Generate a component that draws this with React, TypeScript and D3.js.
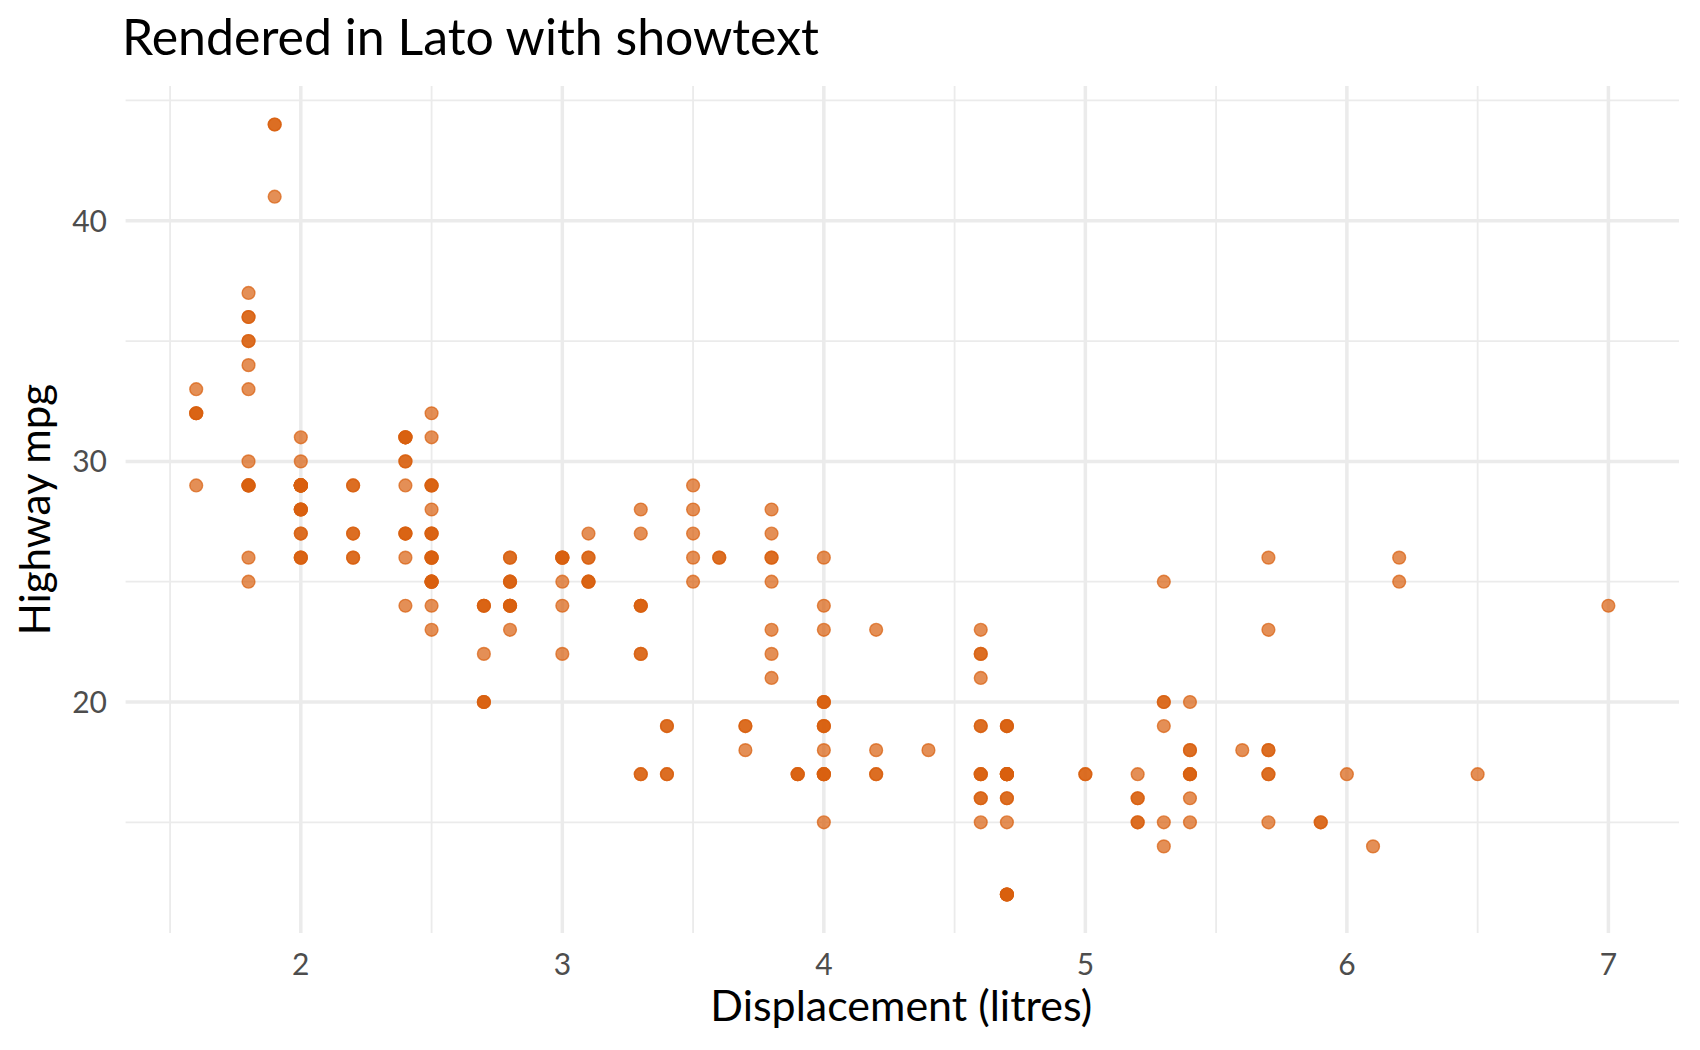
import React from "react";
import * as d3 from "d3";

// unique (displ, hwy) pairs and how many cars share each one
const displ = [
  1.6, 1.6, 1.6,
  1.8, 1.8, 1.8, 1.8, 1.8, 1.8, 1.8, 1.8, 1.8,
  1.9, 1.9,
  2.0, 2.0, 2.0, 2.0, 2.0, 2.0,
  2.2, 2.2, 2.2,
  2.4, 2.4, 2.4, 2.4, 2.4, 2.4,
  2.5, 2.5, 2.5, 2.5, 2.5, 2.5, 2.5, 2.5, 2.5,
  2.7, 2.7, 2.7,
  2.8, 2.8, 2.8, 2.8,
  3.0, 3.0, 3.0, 3.0,
  3.1, 3.1, 3.1,
  3.3, 3.3, 3.3, 3.3, 3.3,
  3.4, 3.4,
  3.5, 3.5, 3.5, 3.5, 3.5,
  3.6,
  3.7, 3.7,
  3.8, 3.8, 3.8, 3.8, 3.8, 3.8, 3.8,
  3.9,
  4.0, 4.0, 4.0, 4.0, 4.0, 4.0, 4.0, 4.0,
  4.2, 4.2, 4.2,
  4.4,
  4.6, 4.6, 4.6, 4.6, 4.6, 4.6, 4.6,
  4.7, 4.7, 4.7, 4.7, 4.7,
  5.0,
  5.2, 5.2, 5.2,
  5.3, 5.3, 5.3, 5.3, 5.3,
  5.4, 5.4, 5.4, 5.4, 5.4,
  5.6,
  5.7, 5.7, 5.7, 5.7, 5.7,
  5.9,
  6.0,
  6.1,
  6.2, 6.2,
  6.5,
  7.0,
];
const hwy = [
  33, 32, 29,
  37, 36, 35, 34, 33, 30, 29, 26, 25,
  44, 41,
  31, 30, 29, 28, 27, 26,
  29, 27, 26,
  31, 30, 29, 27, 26, 24,
  32, 31, 29, 28, 27, 26, 25, 24, 23,
  24, 22, 20,
  26, 25, 24, 23,
  26, 25, 24, 22,
  27, 26, 25,
  28, 27, 24, 22, 17,
  19, 17,
  29, 28, 27, 26, 25,
  26,
  19, 18,
  28, 27, 26, 25, 23, 22, 21,
  17,
  26, 24, 23, 20, 19, 18, 17, 15,
  23, 18, 17,
  18,
  23, 22, 21, 19, 17, 16, 15,
  19, 17, 16, 15, 12,
  17,
  17, 16, 15,
  25, 20, 19, 15, 14,
  20, 18, 17, 16, 15,
  18,
  26, 23, 18, 17, 15,
  15,
  17,
  14,
  26, 25,
  17,
  24,
];
const count = [
  1, 3, 1,
  1, 2, 2, 1, 1, 1, 4, 1, 1,
  2, 1,
  1, 1, 10, 4, 2, 3,
  2, 2, 2,
  4, 2, 1, 3, 1, 1,
  1, 1, 3, 1, 3, 4, 5, 1, 1,
  3, 1, 3,
  2, 3, 4, 1,
  4, 1, 1, 1,
  1, 2, 3,
  1, 1, 3, 2, 2,
  2, 2,
  1, 1, 1, 1, 1,
  2,
  2, 1,
  1, 1, 2, 1, 1, 1, 1,
  3,
  1, 1, 1, 3, 3, 1, 4, 1,
  1, 1, 2,
  1,
  1, 2, 1, 2, 3, 2, 1,
  3, 6, 2, 1, 5,
  2,
  1, 2, 2,
  1, 2, 1, 1, 1,
  1, 2, 3, 1, 1,
  1,
  1, 1, 2, 2, 1,
  2,
  1,
  1,
  1, 1,
  1,
  1,
];

const xMajor = [2, 3, 4, 5, 6, 7];
const xMinor = [1.5, 2.5, 3.5, 4.5, 5.5, 6.5];
const yMajor = [20, 30, 40];
const yMinor = [15, 25, 35, 45];

const title = "Rendered in Lato with showtext";
const xTitle = "Displacement (litres)";
const yTitle = "Highway mpg";

const W = 1700;
const H = 1050;
const panel = { left: 125.6, right: 1679, top: 86, bottom: 933 };
const FONT = "Lato, 'Noto Sans', sans-serif";
const POINT = "#D95F0E";
const GRID = "#EBEBEB";

// ggplot style: 5% expansion on each side of the data range
const expand = (ext: [number, number]): [number, number] => {
  const pad = (ext[1] - ext[0]) * 0.05;
  return [ext[0] - pad, ext[1] + pad];
};

export default function App() {
  const x = d3
    .scaleLinear()
    .domain(expand(d3.extent(displ) as [number, number]))
    .range([panel.left, panel.right]);
  const y = d3
    .scaleLinear()
    .domain(expand(d3.extent(hwy) as [number, number]))
    .range([panel.bottom, panel.top]);

  const points: { cx: number; cy: number; key: string }[] = [];
  displ.forEach((d, i) => {
    for (let k = 0; k < count[i]; k++) {
      points.push({ cx: x(d), cy: y(hwy[i]), key: `${i}-${k}` });
    }
  });

  const midX = (panel.left + panel.right) / 2;
  const midY = (panel.top + panel.bottom) / 2;

  return (
    <svg
      width={W}
      height={H}
      style={{ position: "absolute", left: 0, top: 0, background: "#fff" }}
      fontFamily={FONT}
    >
      <rect width={W} height={H} fill="#fff" />

      {/* minor grid */}
      {yMinor.map((v) => (
        <line key={`ym${v}`} x1={panel.left} x2={panel.right} y1={y(v)} y2={y(v)} stroke={GRID} strokeWidth={1.8} />
      ))}
      {xMinor.map((v) => (
        <line key={`xm${v}`} x1={x(v)} x2={x(v)} y1={panel.top} y2={panel.bottom} stroke={GRID} strokeWidth={1.8} />
      ))}
      {/* major grid */}
      {yMajor.map((v) => (
        <line key={`yM${v}`} x1={panel.left} x2={panel.right} y1={y(v)} y2={y(v)} stroke={GRID} strokeWidth={3.5} />
      ))}
      {xMajor.map((v) => (
        <line key={`xM${v}`} x1={x(v)} x2={x(v)} y1={panel.top} y2={panel.bottom} stroke={GRID} strokeWidth={3.5} />
      ))}

      {points.map((p) => (
        <circle
          key={p.key}
          cx={p.cx}
          cy={p.cy}
          r={6.4}
          fill={POINT}
          fillOpacity={0.7}
          stroke={POINT}
          strokeOpacity={0.7}
          strokeWidth={1.4}
        />
      ))}

      {/* tick labels */}
      {yMajor.map((v) => (
        <text key={`yt${v}`} x={107} y={y(v)} dy="0.36em" textAnchor="end" fontSize={30} fill="#4D4D4D">
          {v}
        </text>
      ))}
      {xMajor.map((v) => (
        <text key={`xt${v}`} x={x(v)} y={975} textAnchor="middle" fontSize={30} fill="#4D4D4D">
          {v}
        </text>
      ))}

      {/* titles */}
      <text x={122} y={55} fontSize={50} fill="#000">
        {title}
      </text>
      <text x={midX - 1} y={1021} textAnchor="middle" fontSize={43} fill="#000">
        {xTitle}
      </text>
      <text
        transform={`translate(50,${midY}) rotate(-90)`}
        textAnchor="middle"
        fontSize={42}
        fill="#000"
      >
        {yTitle}
      </text>
    </svg>
  );
}
